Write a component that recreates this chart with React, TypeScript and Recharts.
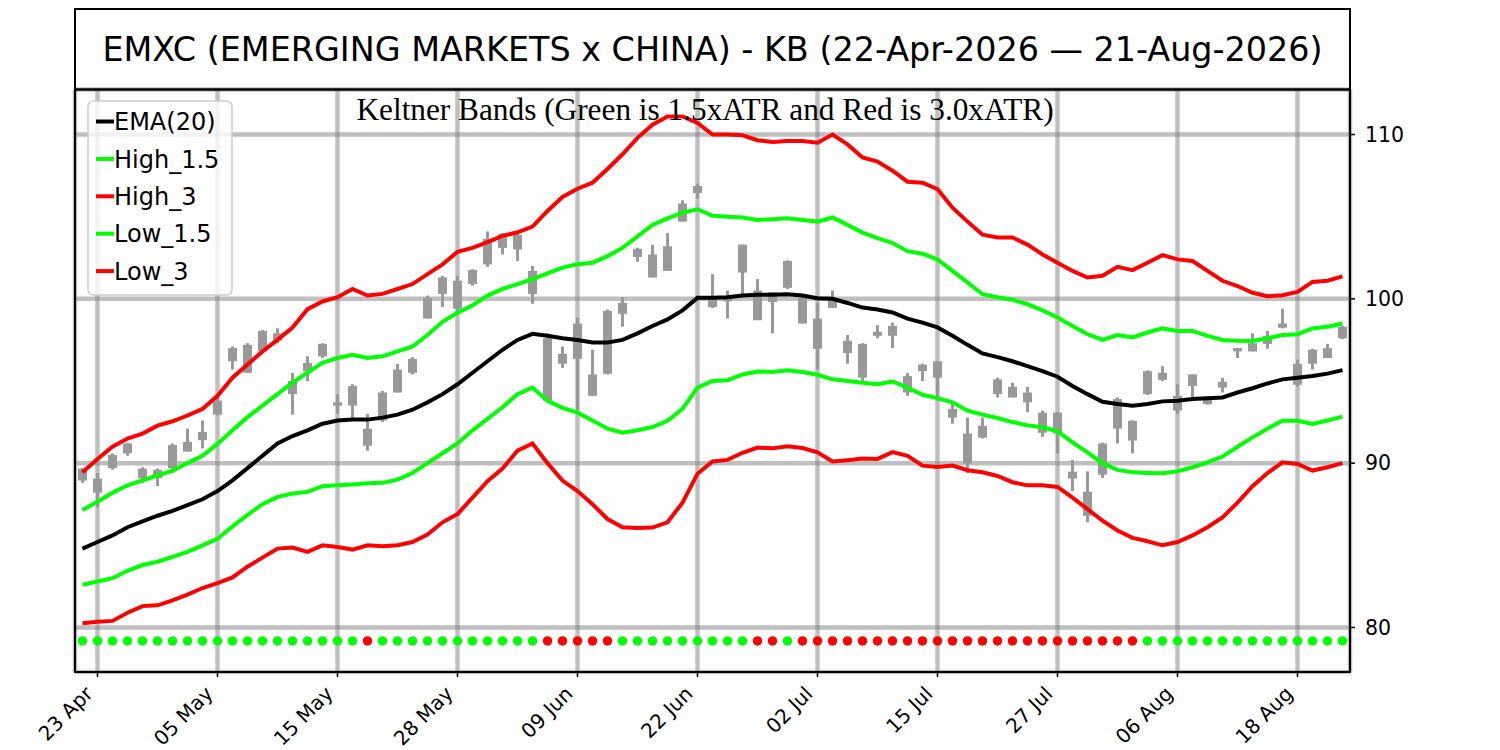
import React from 'react';
import { ComposedChart, Line, Bar, XAxis, YAxis, CartesianGrid } from 'recharts';

const titleText = 'EMXC (EMERGING MARKETS x CHINA) - KB (22-Apr-2026 \u2014 21-Aug-2026)';
const subtitleText = 'Keltner Bands (Green is 1.5xATR and Red is 3.0xATR)';

const tickIndex = [1, 9, 17, 25, 33, 41, 49, 57, 65, 73, 81];
const tickLabels = ['23 Apr', '05 May', '15 May', '28 May', '09 Jun', '22 Jun', '02 Jul', '15 Jul', '27 Jul', '06 Aug', '18 Aug'];
const yTicks = [80, 90, 100, 110];

const bodyTop = [
  89.67, 89.06, 90.5, 91.2, 89.67, 89.6, 91.1, 91.3, 91.9, 93.8,
  97.0, 97.2, 98.05, 97.9, 95.0, 96.1, 97.26, 93.7, 94.7, 92.1,
  94.3, 95.7, 96.35, 100.06, 101.3, 101.1, 101.76, 103.65, 103.95, 103.9,
  101.7, 97.6, 96.66, 98.5, 95.4, 99.27, 99.76, 103.04, 102.7, 103.2,
  105.8, 106.87, 100.1, 100.0, 103.3, 100.5, 100.4, 102.3, 100.06, 98.8,
  100.06, 97.45, 97.26, 98.0, 98.36, 95.3, 96.0, 96.2, 93.3, 91.8,
  92.28, 95.1, 94.65, 94.3, 93.07, 93.07, 89.48, 88.27, 91.2, 93.9,
  92.58, 95.6, 95.5, 94.1, 95.4, 94.0, 94.95, 97.0, 97.3, 97.75,
  98.5, 96.05, 96.9, 97.0, 98.3,
];
const bodyBottom = [
  88.94, 88.2, 89.7, 90.6, 89.1, 89.1, 89.7, 90.7, 91.4, 92.95,
  96.2, 95.5, 96.8, 97.45, 94.2, 95.6, 96.5, 93.5, 93.5, 91.06,
  92.6, 94.3, 95.5, 98.8, 100.3, 99.4, 100.9, 102.1, 103.1, 103.0,
  100.3, 93.8, 96.05, 96.35, 94.1, 95.44, 99.09, 102.55, 101.3, 101.7,
  104.7, 106.44, 99.5, 99.85, 101.6, 98.7, 99.8, 100.67, 98.5, 96.96,
  99.45, 96.7, 95.2, 97.75, 97.75, 94.3, 95.6, 95.2, 92.77, 89.97,
  91.55, 94.2, 94.0, 93.7, 91.85, 91.8, 89.06, 86.8, 89.3, 92.1,
  91.37, 94.2, 95.07, 93.2, 94.7, 93.6, 94.6, 96.8, 96.8, 97.26,
  98.24, 94.77, 96.05, 96.4, 97.6,
];
const highs = [
  89.7, 89.4, 90.6, 91.25, 89.75, 89.67, 91.2, 92.1, 92.6, 94.2,
  97.1, 97.3, 98.1, 98.2, 95.5, 96.5, 97.3, 94.2, 94.8, 93.0,
  94.4, 96.05, 96.45, 100.2, 101.4, 101.4, 101.8, 104.1, 104.0, 103.95,
  102.0, 97.9, 97.1, 98.85, 96.9, 99.35, 100.1, 103.1, 103.3, 104.0,
  106.0, 107.0, 101.5, 100.5, 103.3, 101.2, 100.4, 102.35, 100.3, 99.76,
  100.5, 97.8, 97.3, 98.4, 98.55, 95.5, 96.05, 96.2, 93.6, 92.77,
  92.77, 95.2, 94.9, 94.65, 93.2, 93.1, 90.2, 89.5, 91.25, 94.0,
  92.6, 95.65, 95.9, 94.8, 95.4, 94.05, 95.2, 97.0, 97.9, 98.05,
  99.4, 96.3, 96.95, 97.26, 98.35,
];
const lows = [
  88.8, 87.3, 89.6, 90.45, 88.8, 88.6, 89.4, 90.7, 90.9, 92.9,
  95.7, 95.5, 96.7, 97.3, 92.95, 95.0, 96.4, 93.0, 92.6, 90.76,
  92.5, 94.3, 95.4, 98.8, 99.5, 99.1, 100.8, 101.95, 102.7, 102.3,
  99.7, 93.7, 95.8, 93.2, 94.1, 95.4, 98.3, 102.25, 101.3, 101.7,
  104.7, 106.1, 99.45, 98.8, 100.3, 98.7, 97.9, 100.6, 98.5, 95.7,
  99.45, 96.05, 95.0, 97.6, 97.0, 94.1, 95.0, 93.8, 92.4, 89.4,
  91.5, 94.0, 94.0, 93.1, 91.6, 90.6, 88.3, 86.4, 89.1, 91.2,
  90.6, 94.15, 95.0, 93.0, 93.8, 93.55, 94.3, 96.4, 96.8, 96.96,
  98.2, 94.65, 95.7, 96.4, 97.55,
];

const ema20 = [
  84.8, 85.2, 85.6, 86.1, 86.45, 86.8, 87.1, 87.45, 87.8, 88.3,
  88.95, 89.7, 90.45, 91.2, 91.65, 92.0, 92.4, 92.6, 92.65, 92.65,
  92.77, 92.95, 93.25, 93.7, 94.2, 94.8, 95.5, 96.2, 96.9, 97.5,
  97.87, 97.75, 97.6, 97.5, 97.35, 97.35, 97.5, 97.9, 98.35, 98.75,
  99.3, 100.06, 100.06, 100.1, 100.2, 100.25, 100.25, 100.28, 100.2, 100.04,
  100.0, 99.75, 99.47, 99.35, 99.17, 98.8, 98.55, 98.26, 97.75, 97.2,
  96.68, 96.45, 96.2, 95.9, 95.6, 95.26, 94.7, 94.2, 93.74, 93.6,
  93.5, 93.6, 93.76, 93.8, 93.9, 93.95, 94.0, 94.3, 94.56, 94.85,
  95.1, 95.2, 95.3, 95.45, 95.66,
];
const high15 = [
  87.15, 87.65, 88.2, 88.65, 88.95, 89.25, 89.55, 90.0, 90.45, 91.17,
  92.0, 92.8, 93.5, 94.2, 94.9, 95.5, 96.1, 96.4, 96.6, 96.4,
  96.5, 96.8, 97.1, 97.8, 98.6, 99.15, 99.6, 100.2, 100.6, 100.9,
  101.2, 101.55, 101.9, 102.1, 102.2, 102.6, 103.1, 103.8, 104.5, 104.9,
  105.25, 105.45, 105.05, 105.0, 104.95, 104.8, 104.85, 104.9, 104.8, 104.7,
  104.95, 104.5, 104.03, 103.7, 103.4, 102.9, 102.75, 102.4, 101.7, 101.0,
  100.28, 100.1, 99.95, 99.67, 99.3, 98.86, 98.35, 97.85, 97.5, 97.8,
  97.65, 97.95, 98.2, 98.05, 98.05, 97.75, 97.5, 97.45, 97.44, 97.6,
  97.8, 97.85, 98.2, 98.3, 98.5,
];
const high3 = [
  89.45, 90.25, 91.0, 91.5, 91.8, 92.28, 92.55, 92.9, 93.3, 94.1,
  95.2, 96.0, 96.8, 97.5, 98.25, 99.37, 99.84, 100.1, 100.6, 100.2,
  100.3, 100.6, 100.9, 101.5, 102.1, 102.86, 103.1, 103.45, 103.83, 104.05,
  104.4, 105.35, 106.2, 106.7, 107.07, 107.9, 108.8, 109.8, 110.6, 111.1,
  111.1, 110.7, 110.0, 110.0, 109.95, 109.65, 109.55, 109.6, 109.6, 109.5,
  110.0, 109.4, 108.6, 108.35, 107.8, 107.13, 107.07, 106.67, 105.55, 104.7,
  103.9, 103.73, 103.73, 103.3, 102.7, 102.2, 101.7, 101.3, 101.4, 101.95,
  101.75, 102.2, 102.66, 102.4, 102.3, 101.7, 101.1, 100.78, 100.37, 100.16,
  100.22, 100.42, 101.03, 101.1, 101.37,
];
const low15 = [
  82.6, 82.8, 83.0, 83.45, 83.8, 84.0, 84.3, 84.6, 85.0, 85.4,
  86.15, 86.85, 87.5, 87.95, 88.15, 88.25, 88.6, 88.65, 88.7, 88.77,
  88.8, 89.0, 89.4, 90.0, 90.6, 91.2, 92.0, 92.7, 93.4, 94.2,
  94.6, 93.8, 93.37, 93.07, 92.6, 92.1, 91.85, 92.0, 92.2, 92.58,
  93.3, 94.6, 95.0, 95.05, 95.4, 95.58, 95.55, 95.66, 95.55, 95.38,
  95.1, 95.0, 94.9, 94.8, 94.97, 94.6, 94.16, 93.96, 93.7, 93.2,
  92.95, 92.75, 92.5, 92.3, 92.18, 91.93, 91.26, 90.66, 90.0, 89.59,
  89.44, 89.4, 89.38, 89.5, 89.75, 90.05, 90.4, 91.0, 91.57, 92.1,
  92.58, 92.58, 92.38, 92.6, 92.83,
];
const low3 = [
  80.25, 80.35, 80.4, 80.9, 81.3, 81.35, 81.65, 82.0, 82.4, 82.7,
  83.05, 83.7, 84.25, 84.8, 84.86, 84.6, 85.0, 84.9, 84.74, 85.0,
  84.95, 85.0, 85.2, 85.65, 86.4, 86.9, 87.9, 88.9, 89.67, 90.76,
  91.2, 90.0, 88.94, 88.3, 87.5, 86.6, 86.1, 86.05, 86.08, 86.4,
  87.6, 89.36, 90.1, 90.2, 90.63, 90.95, 90.9, 91.03, 90.92, 90.66,
  90.1, 90.18, 90.28, 90.26, 90.67, 90.45, 89.85, 89.77, 89.85, 89.57,
  89.45, 89.22, 88.84, 88.65, 88.65, 88.55, 87.9, 87.2, 86.5, 85.9,
  85.45, 85.25, 85.0, 85.2, 85.6, 86.1, 86.7, 87.6, 88.6, 89.4,
  90.05, 89.95, 89.55, 89.75, 90.0,
];

// Signal row at the bottom: G = green dot, R = red dot
const signalLevel = 79.18;
const signal = [
  'G', 'G', 'G', 'G', 'G', 'G', 'G', 'G', 'G', 'G',
  'G', 'G', 'G', 'G', 'G', 'G', 'G', 'G', 'G', 'R',
  'G', 'G', 'G', 'G', 'G', 'G', 'G', 'G', 'G', 'G',
  'G', 'R', 'R', 'R', 'R', 'R', 'G', 'G', 'G', 'G',
  'G', 'G', 'G', 'G', 'G', 'R', 'R', 'G', 'R', 'R',
  'R', 'R', 'R', 'R', 'R', 'R', 'R', 'R', 'R', 'R',
  'R', 'R', 'R', 'R', 'R', 'R', 'R', 'R', 'R', 'R',
  'R', 'G', 'G', 'G', 'G', 'G', 'G', 'G', 'G', 'G',
  'G', 'G', 'G', 'G', 'G',
];

const legendItems = [
  { name: 'EMA(20)', color: '#000000' },
  { name: 'High_1.5', color: '#00ff00' },
  { name: 'High_3', color: '#ff0000' },
  { name: 'Low_1.5', color: '#00ff00' },
  { name: 'Low_3', color: '#ff0000' },
];

const data = ema20.map((_, i) => ({
  i,
  ema: ema20[i],
  h15: high15[i],
  h3: high3[i],
  l15: low15[i],
  l3: low3[i],
  range: [lows[i], highs[i]],
  high: highs[i],
  low: lows[i],
  bt: bodyTop[i],
  bb: bodyBottom[i],
  sig: signalLevel,
  sc: signal[i],
}));

const CANDLE = '#999999';

const Candle = (props: any) => {
  const { x, y, width, height, payload } = props;
  if (x == null || y == null || !payload) return null;
  const top = Math.min(y, y + height);
  const h = Math.abs(height);
  const k = h / (payload.high - payload.low);
  const b1 = top + (payload.high - payload.bt) * k;
  const b2 = top + (payload.high - payload.bb) * k;
  const cx = x + width / 2;
  return (
    <g>
      <rect x={cx - 1.5} y={top} width={3} height={h} fill={CANDLE} />
      <rect x={x} y={b1} width={width} height={Math.max(b2 - b1, 1.2)} fill={CANDLE} />
    </g>
  );
};

const XTick = (props: any) => {
  const { x, y, payload } = props;
  const idx = tickIndex.indexOf(payload.value);
  const label = idx >= 0 ? tickLabels[idx] : '';
  const px = x - 3.5;
  const py = y + 16;
  return (
    <text
      x={px}
      y={py}
      transform={`rotate(-45 ${px} ${py})`}
      textAnchor="end"
      fontSize={20}
      fontFamily="DejaVu Sans"
      fill="#000"
    >
      {label}
    </text>
  );
};

const SignalDot = (props: any) => {
  const { cx, cy, payload, index } = props;
  if (cx == null || cy == null) return <g key={`d${index}`} />;
  return (
    <circle
      key={`d${index}`}
      cx={cx}
      cy={cy}
      r={4.7}
      fill={payload.sc === 'R' ? '#ff0000' : '#00ff00'}
    />
  );
};

export default function App() {
  return (
    <div
      style={{
        position: 'absolute',
        left: 0,
        top: 0,
        width: 1500,
        height: 750,
        background: '#fff',
        fontFamily: 'DejaVu Sans',
      }}
    >
      <ComposedChart
        width={1500}
        height={750}
        data={data}
        margin={{ top: 89.5, right: 0, bottom: 0, left: 75 }}
      >
        <CartesianGrid stroke="#808080" strokeOpacity={0.5} strokeWidth={4.5} />
        <XAxis
          dataKey="i"
          type="category"
          ticks={tickIndex}
          interval={0}
          height={78}
          tickSize={5}
          tickLine={{ stroke: '#000', strokeWidth: 1.5 }}
          axisLine={false}
          tick={<XTick />}
        />
        <YAxis
          type="number"
          orientation="right"
          domain={[77.29, 112.74]}
          ticks={yTicks}
          allowDataOverflow
          width={150}
          tickSize={5}
          tickMargin={10}
          axisLine={false}
          tickLine={{ stroke: '#000', strokeWidth: 1.5 }}
          tick={{ fontSize: 20.5, fill: '#000', fontFamily: 'DejaVu Sans' }}
        />
        <Bar dataKey="range" barSize={9} shape={<Candle />} isAnimationActive={false} />
        <Line dataKey="ema" stroke="#000000" strokeWidth={4} dot={false} activeDot={false} isAnimationActive={false} />
        <Line dataKey="h15" stroke="#00ff00" strokeWidth={4} dot={false} activeDot={false} isAnimationActive={false} />
        <Line dataKey="h3" stroke="#ff0000" strokeWidth={4} dot={false} activeDot={false} isAnimationActive={false} />
        <Line dataKey="l15" stroke="#00ff00" strokeWidth={4} dot={false} activeDot={false} isAnimationActive={false} />
        <Line dataKey="l3" stroke="#ff0000" strokeWidth={4} dot={false} activeDot={false} isAnimationActive={false} />
        <Line dataKey="sig" stroke="none" dot={SignalDot} activeDot={false} isAnimationActive={false} />
      </ComposedChart>
      <svg
        width={1500}
        height={750}
        style={{ position: 'absolute', left: 0, top: 0, pointerEvents: 'none' }}
      >
        <rect x={75} y={9} width={1275} height={80.5} fill="none" stroke="#000" strokeWidth={2} />
        <text x={712.5} y={61} textAnchor="middle" fontSize={33.4} fontFamily="DejaVu Sans" fill="#000">
          {titleText}
        </text>
        <rect x={75} y={89.5} width={1275} height={582.5} fill="none" stroke="#000" strokeWidth={2} />
        <text x={705} y={120} textAnchor="middle" fontSize={31.3} fontFamily="Liberation Serif" fill="#000">
          {subtitleText}
        </text>
        <rect x={88} y={101} width={144} height={194} rx={5} fill="#ffffff" fillOpacity={0.8} stroke="#cccccc" strokeWidth={1.5} />
        {legendItems.map((it, k) => {
          const cy = 121.5 + k * 37.4;
          return (
            <g key={it.name}>
              <line x1={96} x2={114} y1={cy} y2={cy} stroke={it.color} strokeWidth={4} />
              <text x={114} y={cy + 8.7} fontSize={24} fontFamily="DejaVu Sans" fill="#000">
                {it.name}
              </text>
            </g>
          );
        })}
      </svg>
    </div>
  );
}
